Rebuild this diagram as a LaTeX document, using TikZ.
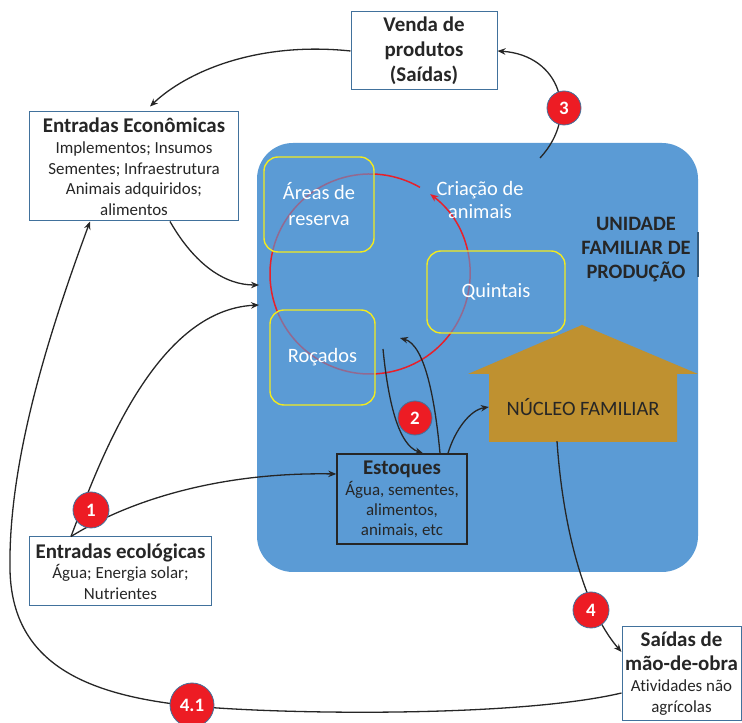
\documentclass[tikz,border=0pt]{standalone}
\usepackage{fontspec}
\setmainfont{Carlito}[Ligatures={TeX,NoCommon}]
\usetikzlibrary{arrows.meta,calc}
\definecolor{blueC}{HTML}{5B9BD5}
\definecolor{boxB}{HTML}{41719C}
\definecolor{badgeR}{HTML}{ED1C24}
\definecolor{goldC}{HTML}{BF9130}
\definecolor{darkT}{HTML}{262626}
\definecolor{yelC}{HTML}{F2EA1F}
\definecolor{redC}{HTML}{E8202A}
\begin{document}
\begin{tikzpicture}[x=1bp,y=1bp,
  wbox/.style={draw=boxB, line width=1bp, fill=white, align=center, inner sep=0pt, text=darkT},
  ybox/.style={draw=yelC, line width=1.4bp, rounded corners=14bp, fill=blueC, fill opacity=0.6, text opacity=1, text=white, align=center, inner sep=0pt},
  wtxt/.style={text=white, align=center, inner sep=0pt},
  badge/.style={circle, fill=badgeR, draw=boxB, line width=0.8bp, text=white, inner sep=0pt, minimum size=34bp, font=\fontsize{19}{20}\selectfont\bfseries},
  conn/.style={draw=darkT, line width=1.3bp},
  arr/.style={-{Stealth[length=8bp,width=6.5bp]}},
]
\useasboundingbox (0,0) rectangle (742,723);
% production unit background
\fill[blueC, rounded corners=36bp] (257,151) rectangle (698,580);
\draw[boxB!80!black, line width=1.5bp] (698,446) -- (698,491);
% red cycle
\coordinate (cc) at (370,449);
\draw[redC, line width=1.5bp, -{Stealth[length=8bp,width=6.5bp]}] (cc) ++(60:100bp) arc[start angle=60, end angle=413, radius=100bp];
% yellow boxes
\node[ybox, minimum width=110bp, minimum height=95bp, font=\fontsize{20.5}{26}\selectfont] (areas) at (319,518.5) {Áreas de\\reserva};
\node[ybox, minimum width=105bp, minimum height=95bp, font=\fontsize{20.5}{24}\selectfont] (rocados) at (322.5,365.5) {Roçados};
\node[ybox, minimum width=138bp, minimum height=82bp, font=\fontsize{20.5}{24}\selectfont] (quintais) at (496,431) {Quintais};
\node[wtxt, font=\fontsize{20.5}{24}\selectfont] (criacao) at (480,523) {Criação de\\animais};
% family nucleus (house)
\fill[goldC] (489,281) -- (489,349) -- (468,349) -- (582,398) -- (698,349) -- (677,349) -- (677,281) -- cycle;
\node[inner sep=0pt, minimum width=188bp, minimum height=68bp, text=darkT, font=\fontsize{20.5}{24}\selectfont] (nucleo) at (583,316) {NÚCLEO FAMILIAR};
\node[align=center, inner sep=0pt, text=darkT, font=\fontsize{20.5}{24}\selectfont\bfseries] (unidade) at (636,473) {UNIDADE\\FAMILIAR DE\\PRODUÇÃO};
% white boxes
\node[wbox, minimum width=146bp, minimum height=78bp, font=\fontsize{21}{25}\selectfont\bfseries] (venda) at (424,672) {Venda de\\produtos\\(Saídas)};
\node[wbox, minimum width=208bp, minimum height=109bp, font=\fontsize{17}{20.5}\selectfont] (econ) at (134,556.5)
  {\fontsize{21}{24}\selectfont\bfseries Entradas Econômicas\\[1bp] Implementos; Insumos\\ Sementes; Infraestrutura\\ Animais adquiridos;\\ alimentos};
\node[wbox, minimum width=181bp, minimum height=69bp, font=\fontsize{17}{20.5}\selectfont] (ecol) at (120.5,151.5)
  {\fontsize{21}{24}\selectfont\bfseries Entradas ecológicas\\[0bp] Água; Energia solar;\\ Nutrientes};
\node[wbox, minimum width=119bp, minimum height=93bp, font=\fontsize{17}{21}\selectfont] (saidas) at (681.5,49.5)
  {\fontsize{21}{26}\selectfont\bfseries Saídas de\\[4bp] \fontsize{21}{26}\selectfont\bfseries mão-de-obra\\ Atividades não\\ agrícolas};
\node[draw=darkT, line width=1.5bp, align=center, inner sep=0pt, text=darkT, minimum width=130bp, minimum height=90bp, font=\fontsize{17}{20}\selectfont] (est) at (402,224)
  {\fontsize{21}{24}\selectfont\bfseries Estoques\\[1bp] Água, sementes,\\ alimentos,\\ animais, etc};
% free ends
\coordinate (in1) at (259,438);
\coordinate (in2) at (259,418);
\coordinate (roc1) at (383,374);
\coordinate (up1) at (400,385);
\coordinate (top3) at (540,565);
% connectors
\draw[conn, arr] (venda.west) .. controls (255,682) and (185,650) .. ([shift={(16,5)}]econ.north);
\draw[conn, arr] (top3) .. controls (580,608) and (560,668) .. (venda.east);
\draw[conn, arr] ([xshift=36bp]econ.south) .. controls (195,458) and (225,438) .. (in1);
\draw[conn, arr] ([xshift=-49.5bp]ecol.north) .. controls (100,263) and (155,413) .. (in2);
\draw[conn, arr] ([xshift=-49.5bp]ecol.north) .. controls (130,223) and (220,251) .. ([yshift=25bp]est.west);
\draw[conn, arr] ([yshift=-19.5bp]saidas.west) .. controls (520,6) and (290,8) .. (192,17)
   .. controls (80,28) and (12,63) .. (10,153) .. controls (8,263) and (50,393) .. ([xshift=-44bp]econ.south);
\draw[conn, arr] (roc1) .. controls (388,323) and (398,278) .. ([xshift=21bp]est.north);
\draw[conn, arr] ([xshift=38bp]est.north) .. controls (435,323) and (425,378) .. (up1);
\draw[conn, arr] ([xshift=46bp]est.north) .. controls (455,293) and (470,313) .. (nucleo.west);
\draw[conn, arr] ([xshift=-26bp]nucleo.south) .. controls (563,193) and (585,113) .. ([yshift=21.5bp]saidas.west);
% badges
\node[badge] (b3) at (564,615) {3};
\node[badge, minimum size=36bp] (b1) at (91,213) {1};
\node[badge] (b2) at (415,305) {2};
\node[badge, minimum size=36bp] (b4) at (591,113) {4};
\node[badge, minimum size=44bp] (b41) at (192,18) {4.1};
\end{tikzpicture}
\end{document}
